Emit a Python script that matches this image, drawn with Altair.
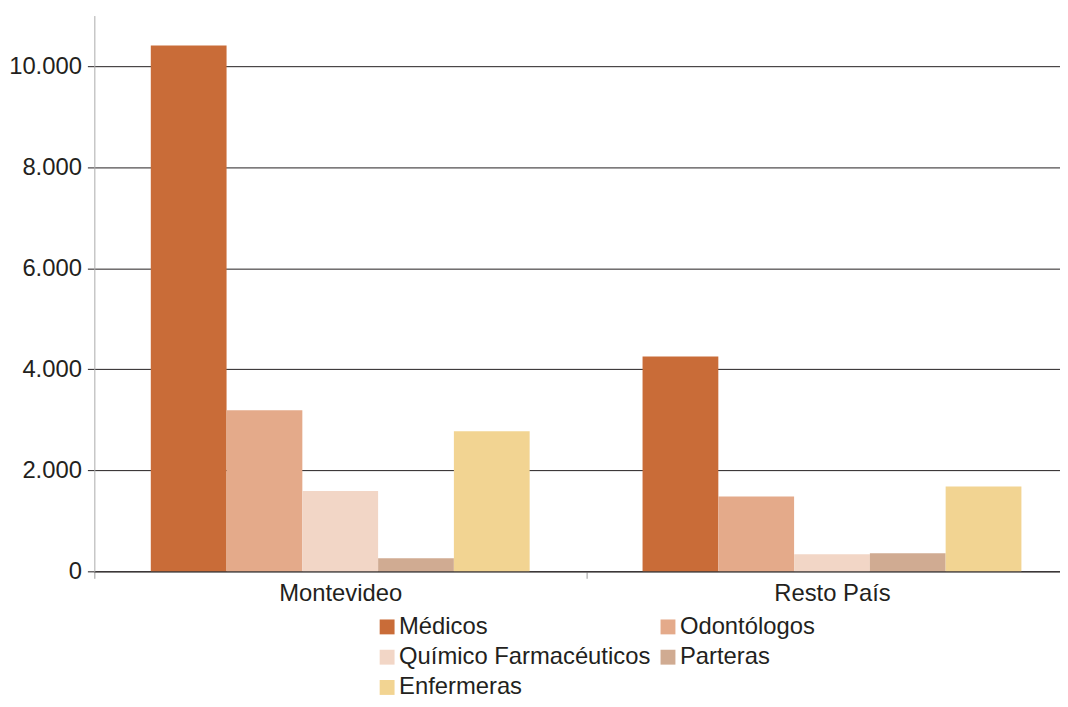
import altair as alt
import pandas as pd

regions = ["Montevideo", "Resto País"]
professions = ["Médicos", "Odontólogos", "Químico Farmacéuticos", "Parteras", "Enfermeras"]
montevideo = [10410, 3190, 1590, 260, 2775]
resto_pais = [4250, 1480, 336, 356, 1680]
colors = ["#C96C38", "#E4AA8A", "#F2D6C6", "#D0AB92", "#F2D492"]
y_ticks = [0, 2000, 4000, 6000, 8000, 10000]

rows = []
for p, v in zip(professions, montevideo):
    rows.append({"Región": regions[0], "Profesión": p, "Cantidad": v})
for p, v in zip(professions, resto_pais):
    rows.append({"Región": regions[1], "Profesión": p, "Cantidad": v})
df = pd.DataFrame(rows)

FONT = "Liberation Sans"
TXT = "#231F20"
FS = 24

chart = alt.Chart(df).mark_bar().encode(
    x=alt.X("Región:N", sort=regions, title=None,
            scale=alt.Scale(paddingInner=0, paddingOuter=0, range=[0, 991]),
            axis=alt.Axis(labelAngle=0, tickBand="extent", tickColor="#999999",
                          tickSize=7, domainColor="#231F20", labelFontSize=FS,
                          labelFont=FONT, labelColor=TXT, labelPadding=3, grid=False)),
    xOffset=alt.XOffset("Profesión:N", sort=professions,
                        scale=alt.Scale(paddingInner=0, paddingOuter=0.745)),
    y=alt.Y("Cantidad:Q", title=None,
            scale=alt.Scale(domain=[0, 11000], nice=False),
            axis=alt.Axis(values=y_ticks, labelExpr="replace(format(datum.value, ','), ',', '.')",
                          domainColor="#AAAAAA", tickColor="#231F20", tickSize=7,
                          gridColor="#231F20", gridWidth=1, labelFontSize=FS,
                          labelFont=FONT, labelColor=TXT, labelPadding=6)),
    color=alt.Color("Profesión:N", sort=professions,
                    scale=alt.Scale(domain=professions, range=colors),
                    legend=alt.Legend(title=None, orient="none", legendX=283, legendY=604,
                                      direction="horizontal",
                                      columns=2, columnPadding=5, rowPadding=6.5,
                                      symbolType="square", symbolSize=225,
                                      symbolStrokeWidth=0, labelFontSize=FS, labelLimit=0,
                                      labelFont=FONT, labelColor=TXT, labelOffset=0)),
).properties(
    width=973, height=560,
    autosize=alt.AutoSizeParams(type="none"),
    padding={"left": 87, "top": 5, "right": 0, "bottom": 126},
).configure_view(stroke=None)

chart.save("out.html", embed_options={"renderer": "svg", "actions": False})
